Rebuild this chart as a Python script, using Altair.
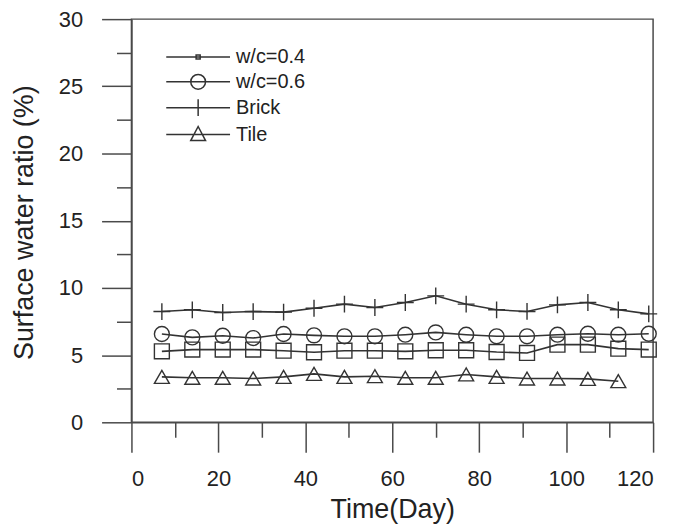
import altair as alt
import pandas as pd

# ---- data ----
days = [7, 14, 21, 28, 35, 42, 49, 56, 63, 70, 77, 84, 91, 98, 105, 112, 119]
tile_days = [7, 14, 21, 28, 35, 42, 49, 56, 63, 70, 77, 84, 91, 98, 105, 112]
wc04 = [5.28, 5.41, 5.41, 5.41, 5.33, 5.21, 5.33, 5.33, 5.28, 5.36, 5.36, 5.23, 5.16, 5.78, 5.78, 5.48, 5.41]
wc06 = [6.57, 6.32, 6.44, 6.27, 6.57, 6.47, 6.40, 6.40, 6.52, 6.69, 6.52, 6.40, 6.40, 6.52, 6.59, 6.52, 6.59]
brick = [8.24, 8.37, 8.17, 8.24, 8.20, 8.49, 8.79, 8.54, 8.91, 9.41, 8.79, 8.37, 8.25, 8.74, 8.91, 8.37, 8.07]
tile = [3.38, 3.31, 3.31, 3.26, 3.38, 3.60, 3.38, 3.43, 3.31, 3.31, 3.56, 3.38, 3.26, 3.26, 3.23, 3.06]
series_names = ["w/c=0.4", "w/c=0.6", "Brick", "Tile"]
x_major = [0, 20, 40, 60, 80, 100, 120]
x_minor = [10, 30, 50, 70, 90, 110]
y_major = [0, 5, 10, 15, 20, 25, 30]
y_minor = [2.5, 7.5, 12.5, 17.5, 22.5, 27.5]

rows = []
for name, xs, ys in [("w/c=0.4", days, wc04), ("w/c=0.6", days, wc06),
                     ("Brick", days, brick), ("Tile", tile_days, tile)]:
    for d, v in zip(xs, ys):
        rows.append({"day": d, "ratio": v, "series": name})
df = pd.DataFrame(rows)

INK = "#333333"
AX = "#4a4a4a"
TXT = "#222222"
FONT = "Liberation Sans"

x_scale = alt.Scale(domain=[0, 120], nice=False, zero=False)
y_scale = alt.Scale(domain=[0, 30], nice=False)

common = dict(grid=False, domainColor=AX, tickColor=AX, tickWidth=1.5, domainWidth=1.5,
              labelFont=FONT, titleFont=FONT, labelColor=TXT, titleColor=TXT,
              titleFontWeight="normal")

major_x = alt.Axis(values=x_major, tickSize=30, labelPadding=16, labelFontSize=22,
                   title="Time(Day)", titleFontSize=27, titleBaseline="alphabetic",
                   titleY=96, orient="bottom", **common)
major_y = alt.Axis(values=y_major, tickSize=30, labelPadding=19, labelFontSize=22,
                   title="Surface water ratio (%)", titleFontSize=27, titleX=-107, titleY=204,
                   titleBaseline="middle", orient="left", **common)
minor_x = alt.Axis(values=x_minor, tickSize=15, labels=False, domain=False, title=None,
                   orient="bottom", grid=False, tickColor=AX, tickWidth=1.5)
minor_y = alt.Axis(values=y_minor, tickSize=15, labels=False, domain=False, title=None,
                   orient="left", grid=False, tickColor=AX, tickWidth=1.5)

plot_shapes = ["square", "circle", "M-1.13,0H1.13M0,-1.13V1.13", "triangle-up"]
legend_shapes = [
    "M-2.67,0H2.67M-0.17,-0.17H0.17V0.17H-0.17Z",
    "M-2.67,0H2.67M-0.62,0A0.62,0.62,0,1,0,0.62,0A0.62,0.62,0,1,0,-0.62,0",
    "M-2.67,0H2.67M0,-0.7V0.7",
    "M-2.67,0H2.67M0,-0.68L0.62,0.5L-0.62,0.5Z",
]

lines = alt.Chart(df).mark_line(color=INK, strokeWidth=1.6).encode(
    x=alt.X("day:Q", scale=x_scale, axis=major_x),
    y=alt.Y("ratio:Q", scale=y_scale, axis=major_y),
    detail="series:N",
)

points = alt.Chart(df).mark_point(filled=False, color=INK, strokeWidth=1.4, opacity=1, size=225).encode(
    x=alt.X("day:Q", scale=x_scale, axis=minor_x),
    y=alt.Y("ratio:Q", scale=y_scale, axis=minor_y),
    shape=alt.Shape("series:N", scale=alt.Scale(domain=series_names, range=plot_shapes), legend=None),
)

legend_layer = alt.Chart(df).transform_filter("false").mark_point(
    filled=False, color=INK, strokeWidth=1.5, opacity=1
).encode(
    x=alt.X("day:Q", scale=x_scale, axis=None),
    y=alt.Y("ratio:Q", scale=y_scale, axis=None),
    shape=alt.Shape(
        "series:N",
        scale=alt.Scale(domain=series_names, range=legend_shapes),
        legend=alt.Legend(title=None, orient="none", legendX=54, legendY=25, padding=0,
                          symbolSize=576, symbolStrokeWidth=1.5, symbolStrokeColor=INK,
                          symbolFillColor="transparent", labelFontSize=20, labelFont=FONT,
                          labelColor=TXT, labelOffset=25, rowPadding=2),
    ),
)

chart = alt.layer(lines, points, legend_layer).resolve_scale(
    shape="independent"
).resolve_axis(
    x="independent", y="independent"
).properties(
    width=524, height=405,
    autosize=alt.AutoSizeParams(type="none"),
    padding={"left": 124, "top": 10, "right": 20, "bottom": 106},
    background="white",
).configure_view(stroke=AX, strokeWidth=1.5)

chart.save("out.html", embed_options={"renderer": "svg", "actions": False})
